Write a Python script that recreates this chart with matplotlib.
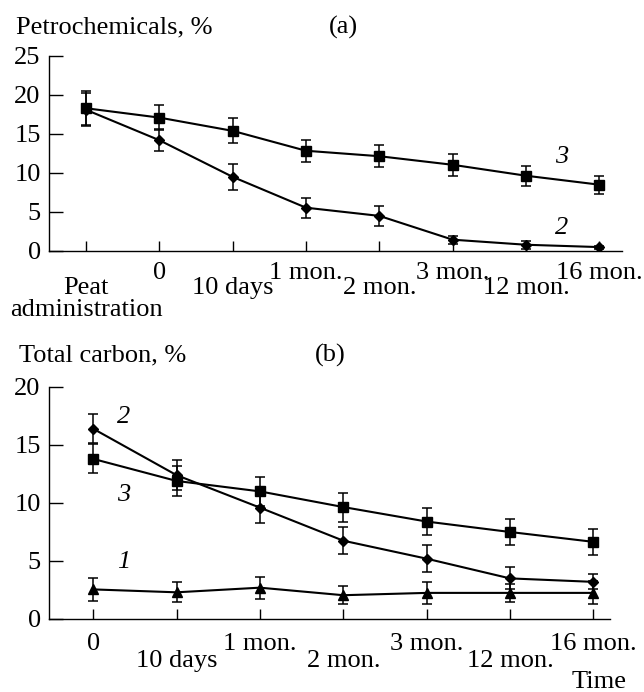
import numpy as np
import matplotlib
matplotlib.use("Agg")
import matplotlib.pyplot as plt

plt.rcParams['font.family'] = ['Liberation Serif', 'DejaVu Serif']
plt.rcParams['font.size'] = 19

# panel (a): petrochemicals, %
petro_labels = ["Peat\nadministration", "0", "10 days", "1 mon.", "2 mon.",
                "3 mon.", "12 mon.", "16 mon."]
petro_s3 = [18.3, 17.1, 15.4, 12.85, 12.15, 11.05, 9.65, 8.5]
petro_s3_err = [2.2, 1.6, 1.6, 1.4, 1.4, 1.4, 1.3, 1.15]
petro_s2 = [18.1, 14.2, 9.5, 5.55, 4.5, 1.45, 0.8, 0.5]
petro_s2_err = [2.1, 1.4, 1.7, 1.3, 1.3, 0.5, 0.5, 0.2]

# panel (b): total carbon, %
carbon_labels = ["0", "10 days", "1 mon.", "2 mon.", "3 mon.", "12 mon.", "16 mon."]
carbon_s1 = [2.55, 2.3, 2.7, 2.05, 2.25, 2.25, 2.25]
carbon_s1_err = [1.0, 0.85, 0.95, 0.8, 0.95, 0.8, 1.0]
carbon_s2 = [16.4, 12.4, 9.6, 6.75, 5.2, 3.5, 3.2]
carbon_s2_err = [1.25, 1.3, 1.3, 1.15, 1.15, 0.95, 0.65]
carbon_s3 = [13.8, 11.9, 11.0, 9.65, 8.4, 7.5, 6.65]
carbon_s3_err = [1.25, 1.3, 1.25, 1.25, 1.15, 1.15, 1.15]

fig = plt.figure(figsize=(6.44, 6.92), dpi=100)
ax_a = fig.add_axes([0.0761, 0.6373, 0.8898, 0.2818])
ax_b = fig.add_axes([0.0761, 0.1055, 0.8711, 0.3353])

line_kw = dict(color='black', lw=1.5, elinewidth=1.1, capsize=3.6, capthick=1.1)


def style_axes(ax, labels, ymax, ystep, pads):
    for side in ('top', 'right'):
        ax.spines[side].set_visible(False)
    for side in ('left', 'bottom'):
        ax.spines[side].set_linewidth(1.0)
    x = np.arange(len(labels))
    # labels alternate between two rows under the axis
    first = x[x % 2 == (len(labels) % 2 == 0)]
    second = x[x % 2 != (len(labels) % 2 == 0)]
    ax.set_xticks(first, [labels[i] for i in first])
    ax.set_xticks(second, [labels[i] for i in second], minor=True)
    ax.tick_params(axis='x', which='both', direction='in', length=7, width=1.0)
    ax.tick_params(axis='x', which='major', pad=pads[0])
    ax.tick_params(axis='x', which='minor', pad=pads[1])
    for lab in ax.get_xticklabels(minor=True):
        lab.set_linespacing(0.95)
    ax.set_ylim(0, ymax)
    ax.set_yticks(np.arange(0, ymax + 1, ystep))
    ax.tick_params(axis='y', direction='in', length=10, width=1.0, pad=6)


# (a)
xa = np.arange(len(petro_labels))
ax_a.errorbar(xa, petro_s3, yerr=petro_s3_err, marker='s', ms=7, **line_kw)
ax_a.errorbar(xa, petro_s2, yerr=petro_s2_err, marker='D', ms=5.5, **line_kw)
style_axes(ax_a, petro_labels, 25, 5, (8, 19))
ax_a.set_xlim(-0.505, 7.31)
ax_a.text(6.49, 12.1, "3", style='italic', ha='center', va='center')
ax_a.text(6.49, 2.9, "2", style='italic', ha='center', va='center')

# (b)
xb = np.arange(len(carbon_labels))
ax_b.errorbar(xb, carbon_s3, yerr=carbon_s3_err, marker='s', ms=7, **line_kw)
ax_b.errorbar(xb, carbon_s2, yerr=carbon_s2_err, marker='D', ms=5.5, **line_kw)
ax_b.errorbar(xb, carbon_s1, yerr=carbon_s1_err, marker='^', ms=6.5, **line_kw)
style_axes(ax_b, carbon_labels, 20, 5, (10, 22))
ax_b.set_xlim(-0.53, 6.2)
ax_b.text(0.37, 17.4, "2", style='italic', ha='center', va='center')
ax_b.text(0.37, 10.7, "3", style='italic', ha='center', va='center')
ax_b.text(0.37, 4.9, "1", style='italic', ha='center', va='center')

fig.text(16 / 644, 1 - 27 / 692, "Petrochemicals, %", ha='left', va='center')
fig.text(343 / 644, 1 - 27 / 692, "(a)", ha='center', va='center')
fig.text(19 / 644, 1 - 355 / 692, "Total carbon, %", ha='left', va='center')
fig.text(330 / 644, 1 - 355 / 692, "(b)", ha='center', va='center')
fig.text(627 / 644, 1 - 682 / 692, "Time", ha='right', va='center')

fig.savefig("out.png", dpi=100)
